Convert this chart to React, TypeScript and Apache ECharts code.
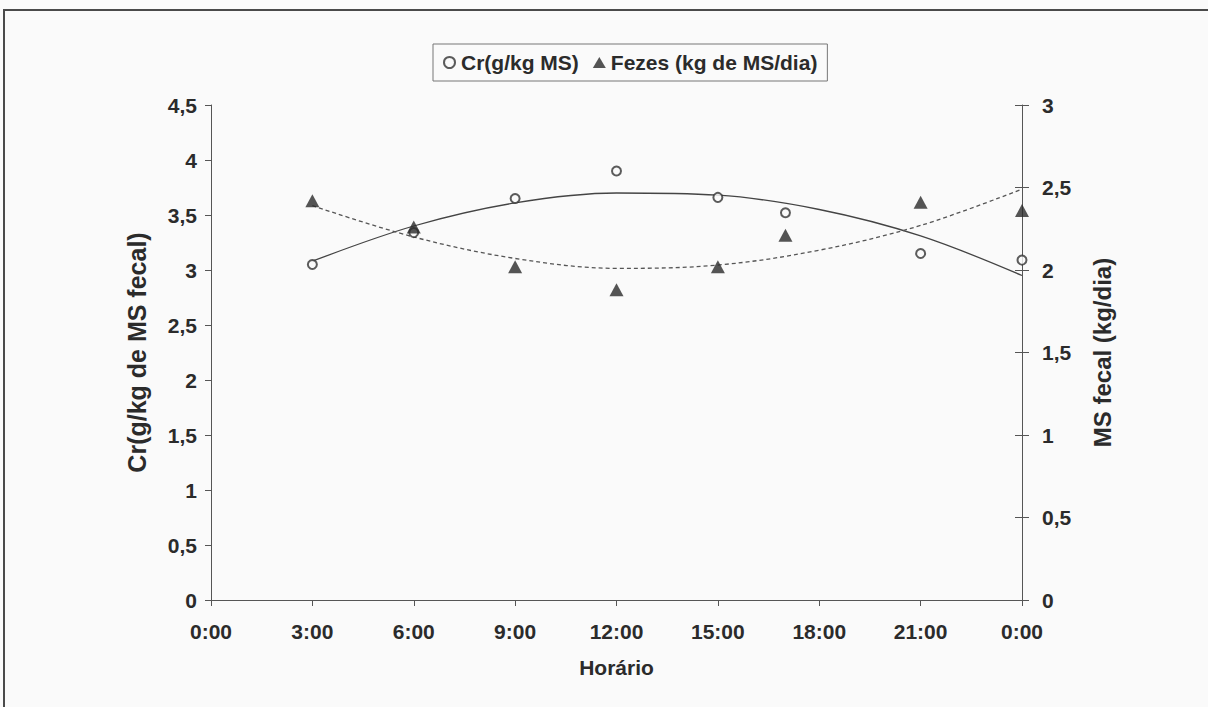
import React, { useEffect, useRef } from "react";
import * as echarts from "echarts";

const hours = [3, 6, 9, 12, 15, 17, 21, 24];
const crValues = [3.05, 3.34, 3.65, 3.9, 3.66, 3.52, 3.15, 3.09];
const fezesValues = [2.42, 2.26, 2.02, 1.88, 2.02, 2.21, 2.41, 2.36];

const trendHours = [3, 6, 9, 12, 15, 18, 21, 24];
const crTrend = [3.08, 3.4, 3.61, 3.7, 3.68, 3.55, 3.31, 2.95];
const fezesTrend = [2.39, 2.2, 2.07, 2.01, 2.03, 2.12, 2.27, 2.49];

const xTickLabels = ["0:00", "3:00", "6:00", "9:00", "12:00", "15:00", "18:00", "21:00", "0:00"];
const leftTickLabels = ["0", "0,5", "1", "1,5", "2", "2,5", "3", "3,5", "4", "4,5"];
const rightTickLabels = ["0", "0,5", "1", "1,5", "2", "2,5", "3"];

const FONT = "Liberation Sans, Arial, sans-serif";
const TXT = "#2b2b2b";
const AX = "#555";

export default function App() {
  const ref = useRef<HTMLDivElement>(null);
  useEffect(() => {
    document.body.style.margin = "0";
    const chart = echarts.init(ref.current!, null, { renderer: "svg" });
    const pair = (xs: number[], ys: number[]) => xs.map((x, i) => [x, ys[i]]);
    chart.setOption({
      animation: false,
      backgroundColor: "#fafafa",
      textStyle: { fontFamily: FONT },
      graphic: [
        {
          type: "polyline",
          shape: { points: [[4, 707], [4, 10], [1208, 10]] },
          style: { stroke: "#4a4a4a", lineWidth: 2, fill: "none" },
        },
      ],
      legend: {
        top: 44,
        left: 433,
        data: [
          {
            name: "Cr(g/kg MS)",
            icon: "circle",
            itemStyle: { color: "#fafafa", borderColor: "#333", borderWidth: 2 },
          },
          { name: "Fezes (kg de MS/dia)", icon: "triangle", itemStyle: { color: "#2a2a2a" } },
        ],
        itemWidth: 13,
        itemHeight: 11,
        itemGap: 14,
        padding: [8, 10, 8, 10],
        borderColor: "#777",
        borderWidth: 1,
        textStyle: { fontFamily: FONT, fontWeight: "bold", fontSize: 21, color: TXT },
      },
      grid: { left: 211, right: 186, top: 105, bottom: 107 },
      xAxis: {
        type: "value",
        min: 0,
        max: 24,
        interval: 3,
        name: "Horário",
        nameLocation: "middle",
        nameGap: 57,
        nameTextStyle: { fontFamily: FONT, fontWeight: "bold", fontSize: 21, color: TXT },
        axisLine: { lineStyle: { color: AX, width: 1 } },
        axisTick: { length: 6, lineStyle: { color: AX } },
        axisLabel: {
          margin: 21,
          fontFamily: FONT,
          fontWeight: "bold",
          fontSize: 21,
          color: TXT,
          formatter: (v: number) => xTickLabels[Math.round(v / 3)],
        },
        splitLine: { show: false },
      },
      yAxis: [
        {
          type: "value",
          min: 0,
          max: 4.5,
          interval: 0.5,
          position: "left",
          name: "Cr(g/kg de MS fecal)",
          nameLocation: "middle",
          nameGap: 62,
          nameTextStyle: { fontFamily: FONT, fontWeight: "bold", fontSize: 25, color: TXT },
          axisLine: { show: true, lineStyle: { color: AX, width: 1 } },
          axisTick: { show: true, length: 6, lineStyle: { color: AX } },
          axisLabel: {
            margin: 14,
            fontFamily: FONT,
            fontWeight: "bold",
            fontSize: 21,
            color: TXT,
            formatter: (v: number) => leftTickLabels[Math.round(v / 0.5)],
          },
          splitLine: { show: false },
        },
        {
          type: "value",
          min: 0,
          max: 3,
          interval: 0.5,
          position: "right",
          name: "MS fecal (kg/dia)",
          nameLocation: "middle",
          nameGap: 68,
          nameRotate: 90,
          nameTextStyle: { fontFamily: FONT, fontWeight: "bold", fontSize: 24, color: TXT },
          axisLine: { show: true, lineStyle: { color: AX, width: 1 } },
          axisTick: { show: true, length: 7, lineStyle: { color: AX } },
          axisLabel: {
            margin: 20,
            fontFamily: FONT,
            fontWeight: "bold",
            fontSize: 21,
            color: TXT,
            formatter: (v: number) => rightTickLabels[Math.round(v / 0.5)],
          },
          splitLine: { show: false },
        },
        {
          type: "value",
          min: 0,
          max: 3,
          interval: 0.5,
          position: "right",
          axisLine: { show: false },
          axisTick: { show: true, inside: true, length: 7, lineStyle: { color: AX } },
          axisLabel: { show: false },
          splitLine: { show: false },
        },
      ],
      series: [
        {
          name: "Cr trend",
          type: "line",
          yAxisIndex: 0,
          data: pair(trendHours, crTrend),
          smooth: 0.35,
          showSymbol: false,
          symbol: "none",
          lineStyle: { color: "#444", width: 1.3, type: "solid" },
          z: 1,
        },
        {
          name: "Fezes trend",
          type: "line",
          yAxisIndex: 1,
          data: pair(trendHours, fezesTrend),
          smooth: 0.35,
          showSymbol: false,
          symbol: "none",
          lineStyle: { color: "#555", width: 1.3, type: [4, 3] },
          z: 1,
        },
        {
          name: "Cr(g/kg MS)",
          type: "scatter",
          yAxisIndex: 0,
          data: pair(hours, crValues),
          symbol: "circle",
          symbolSize: 9,
          itemStyle: { color: "#fafafa", borderColor: "#333", borderWidth: 2 },
          z: 3,
        },
        {
          name: "Fezes (kg de MS/dia)",
          type: "scatter",
          yAxisIndex: 1,
          data: pair(hours, fezesValues),
          symbol: "triangle",
          symbolSize: [14, 13],
          itemStyle: { color: "#2a2a2a" },
          z: 3,
        },
      ],
    });
    return () => chart.dispose();
  }, []);
  return <div ref={ref} style={{ position: "fixed", left: 0, top: 0, width: 1208, height: 707 }} />;
}
